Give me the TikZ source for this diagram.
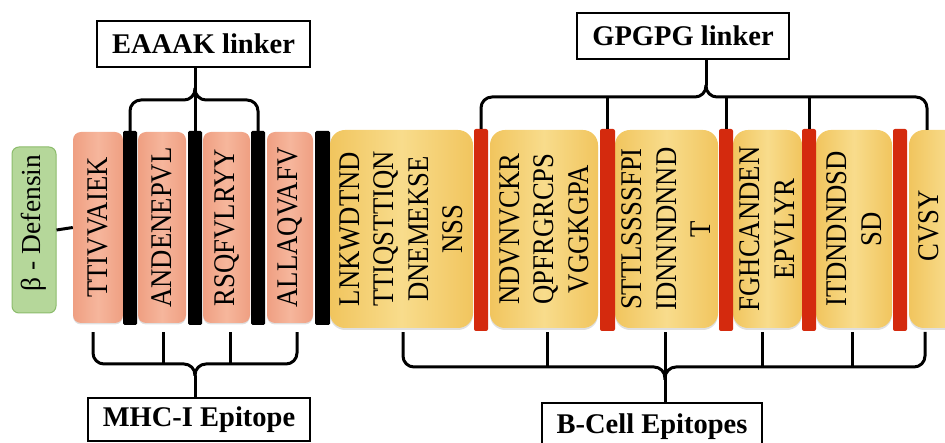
\documentclass[tikz,border=0pt]{standalone}
\usepackage{fontspec}
\setmainfont{Liberation Serif}
\newfontfamily\seqfont[FakeStretch=0.89]{Liberation Serif}
\usetikzlibrary{shadows}
\definecolor{salmonA}{HTML}{EF9F82}
\definecolor{salmonB}{HTML}{F6B69C}
\definecolor{yelA}{HTML}{F1C55E}
\definecolor{yelB}{HTML}{F8DC8C}
\definecolor{redbar}{HTML}{D42A0E}
\definecolor{grnA}{HTML}{B5D79A}
\definecolor{grnB}{HTML}{8CBC6C}
\begin{document}
\begin{tikzpicture}[x=1pt,y=-1pt,
  br/.style={line width=3pt, rounded corners=11pt},
  conn/.style={line width=3pt},
  sbox/.style={rounded corners=8pt, inner sep=0pt, left color=salmonA, right color=salmonA, middle color=salmonB,
    drop shadow={shadow xshift=0pt, shadow yshift=-1.5pt, opacity=0.25}},
  ybox/.style={rounded corners=15pt, inner sep=0pt, left color=yelA, right color=yelA, middle color=yelB,
    drop shadow={shadow xshift=0pt, shadow yshift=-2pt, opacity=0.25}},
  kbar/.style={fill=black, rounded corners=1.5pt, inner sep=0pt, minimum height=194pt},
  rbar/.style={fill=redbar, rounded corners=2pt, inner sep=0pt, minimum height=202pt},
  seq/.style={rotate=90, inner sep=0pt, align=center, font=\seqfont\fontsize{30}{34.5}\selectfont},
  lab/.style={draw, line width=2.8pt, fill=white, inner sep=0pt, font=\bfseries\fontsize{28.5}{30}\selectfont}
]
\clip (0,0) rectangle (945,443);

% beta defensin
\node[draw=grnB, line width=1pt, fill=grnA, rounded corners=7pt, minimum width=44pt, minimum height=166pt, inner sep=0pt] (b0) at (34,230) {};
\node[rotate=90, inner sep=0pt, font=\fontsize{27.5}{30}\selectfont] (tb) at (34,223) {β - Defensin};

% MHC-I epitopes (salmon)
\node[sbox, minimum width=50pt, minimum height=191pt] (s1) at (98,227.5) {};
\node[sbox, minimum width=48pt, minimum height=191pt] (s2) at (162,227.5) {};
\node[sbox, minimum width=47pt, minimum height=191pt] (s3) at (226.5,227.5) {};
\node[sbox, minimum width=46pt, minimum height=191pt] (s4) at (290,227.5) {};
% EAAAK linkers
\node[kbar, minimum width=14pt] (k1) at (130,228) {};
\node[kbar, minimum width=14pt] (k2) at (195,228) {};
\node[kbar, minimum width=14pt] (k3) at (258,228) {};
\node[kbar, minimum width=15pt] (k4) at (322.5,228) {};

% B-cell epitopes (yellow)
\node[ybox, minimum width=143pt, minimum height=198pt] (y1) at (401.5,229) {};
\node[ybox, minimum width=108pt, minimum height=198pt] (y2) at (544,229) {};
\node[ybox, minimum width=103pt, minimum height=198pt] (y3) at (666.5,229) {};
\node[ybox, minimum width=69pt, minimum height=198pt] (y4) at (767.5,229) {};
\node[ybox, minimum width=76pt, minimum height=198pt] (y5) at (854,229) {};
\node[ybox, minimum width=81pt, minimum height=198pt] (y6) at (949.5,229) {};
% GPGPG linkers
\node[rbar, minimum width=14pt] (r1) at (481,230) {};
\node[rbar, minimum width=15pt] (r2) at (607.5,230) {};
\node[rbar, minimum width=14pt] (r3) at (726,230) {};
\node[rbar, minimum width=14pt] (r4) at (809,230) {};
\node[rbar, minimum width=14pt] (r5) at (900,230) {};

% sequences
\node[seq] (t1) at (s1) {TTIVVAIEK};
\node[seq] (t2) at (s2) {ANDENEPVL};
\node[seq] (t3) at (s3) {RSQFVLRYY};
\node[seq] (t4) at (s4) {ALLAQVAFV};
\node[seq] (u1) at (y1) {LNKWDTND\\TTIQSTTIQN\\DNEMEKSE\\NSS};
\node[seq] (u2) at (y2) {NDVNVCKR\\QPFRGRCPS\\VGGKGPA};
\node[seq] (u3) at (y3) {STTLSSSSFPI\\IDNNNDNND\\T};
\node[seq] (u4) at (y4) {FGHCANDEN\\EPVLYR};
\node[seq] (u5) at (y5) {ITDNDNDSD\\SD};
\node[seq] (u6) at (929,226) {CVSY};

% connector defensin - first epitope
\draw[conn] (b0.east) -- (s1.west);

% label boxes
\node[lab, minimum width=213pt, minimum height=46pt] (ek) at (203.5,44) {EAAAK linker};
\node[lab, minimum width=212pt, minimum height=46pt] (gp) at (683,36) {GPGPG linker};
\node[lab, minimum width=222pt, minimum height=43pt] (mhc) at (199,419.5) {MHC-I Epitope};
\node[lab, minimum width=220pt, minimum height=47pt] (bc) at (652,426.5) {B-Cell Epitopes};

% EAAAK bracket
\coordinate (etip) at (195,88);
\draw[br] (k1.north) -- (k1.north |- 0,100) -- (k2.north |- 0,100) -- (etip);
\draw[br] (k3.north) -- (k3.north |- 0,100) -- (k2.north |- 0,100) -- (etip);
\draw[conn] (ek.south -| k2.north) -- (k2.north);

% GPGPG bracket
\coordinate (gtip) at (706,85);
\coordinate (gend) at (927,130);
\draw[br] (r1.north) -- (r1.north |- 0,97) -- (gtip |- 0,97) -- (gtip);
\draw[br] (gend) -- (gend |- 0,97) -- (gtip |- 0,97) -- (gtip);
\draw[conn] (gp.south -| gtip) -- (gtip);
\draw[conn] (r2.north) -- (r2.north |- 0,97);
\draw[conn] (r3.north) -- (r3.north |- 0,97);
\draw[conn] (r4.north) -- (r4.north |- 0,97);

% MHC-I bracket
\coordinate (mtip) at (195,376);
\draw[br] ([shift={(-5,9)}]s1.south) -- (93,364) -- (mtip |- 0,364) -- (mtip);
\draw[br] ([shift={(7,9)}]s4.south) -- (297,364) -- (mtip |- 0,364) -- (mtip);
\draw[conn] ([shift={(1,9)}]s2.south) -- (163,364);
\draw[conn] ([shift={(3.5,9)}]s3.south) -- (230,364);
\draw[conn] (mtip) -- (mhc.north -| mtip);

% B-cell bracket
\coordinate (btip) at (665,380);
\draw[br] ([shift={(1.5,4)}]y1.south) -- (403,367) -- (btip |- 0,367) -- (btip);
\draw[br] (925,332) -- (925,367) -- (btip |- 0,367) -- (btip);
\draw[conn] ([shift={(3,4)}]y2.south) -- (547,367);
\draw[conn] ([shift={(-5.5,4)}]y4.south) -- (762,367);
\draw[conn] ([shift={(-2,4)}]y5.south) -- (852,368);
\draw[conn] ([shift={(-1.5,4)}]y3.south) -- (bc.north -| btip);
\end{tikzpicture}
\end{document}
